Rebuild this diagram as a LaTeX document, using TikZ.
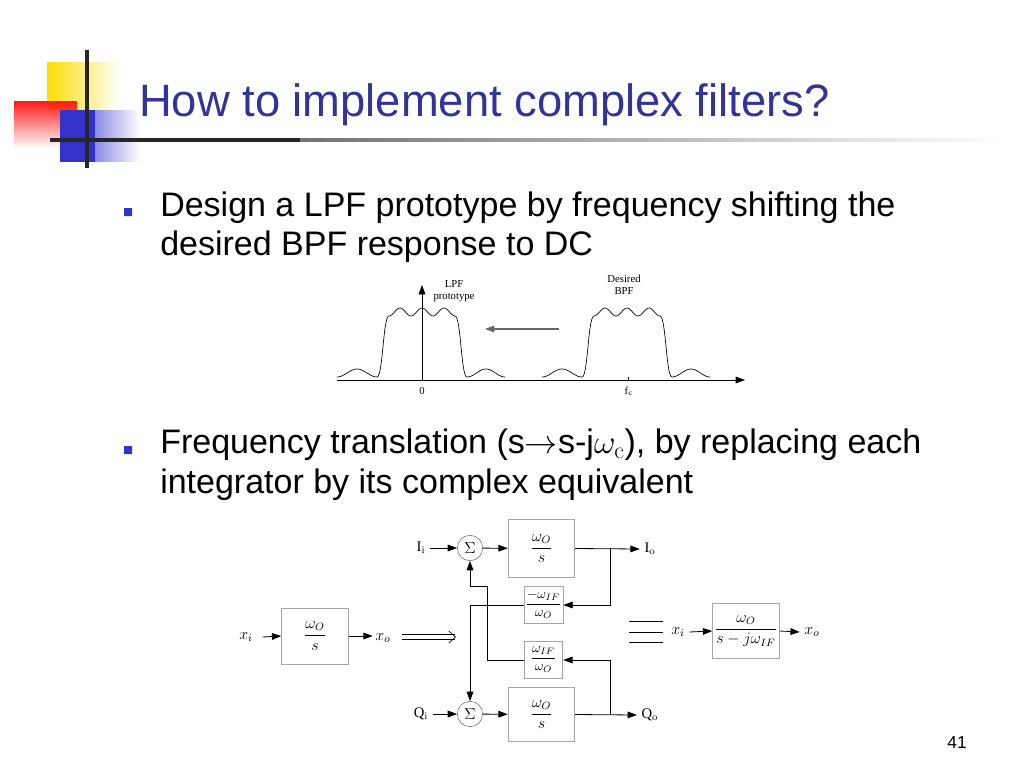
\documentclass[tikz,border=0pt]{standalone}
\usepackage{fontspec}
\newfontfamily\tah{Liberation Sans}
\newfontfamily\tms{Liberation Serif}
\usetikzlibrary{arrows.meta,fadings}
\definecolor{ttl}{RGB}{51,51,153}
\definecolor{blu}{RGB}{51,51,204}
\newcommand{\fr}[2]{$\displaystyle\frac{#1}{#2}$}
\tikzset{
  blk/.style={draw=black!35,line width=0.6pt,minimum width=#1,font=\fontsize{11.5}{12}\selectfont},
  gblk/.style={draw=black!35,line width=0.6pt,minimum width=29pt,minimum height=28pt,inner sep=1pt,font=\fontsize{10}{11}\selectfont},
  sumc/.style={circle,draw=black!60,minimum size=19pt,inner sep=0pt,font=\fontsize{11.5}{12}\selectfont},
  sig/.style={-{Triangle[length=7pt,width=5pt]},line width=0.6pt},
  lbl/.style={font=\tms\fontsize{11}{11}\selectfont},
  mlbl/.style={font=\fontsize{11.5}{12}\selectfont},
  body/.style={font=\tah\fontsize{25.5}{30}\selectfont,anchor=west,inner sep=0pt},
}
\begin{document}
\begin{tikzpicture}[x=0.75pt,y=-0.75pt]
\useasboundingbox (0,0) rectangle (1024,768);
\fill[white] (0,0) rectangle (1024,768);
% decoration
\fill[yellow!80!orange,path fading=east] (47,62) rectangle (120,110);
\fill[red!90,path fading=south] (14,101) rectangle (77,148);
\fill[blu,path fading=east] (60,110) rectangle (140,162);
\fill[blu] (60,110) rectangle (95,162);
\fill[black!75,path fading=east] (50,138) rectangle (1000,142);
\fill[black!85] (50,138) rectangle (300,142);
\draw[line width=3pt,black!85] (87,50) -- (87,168);
\node[anchor=west,inner sep=0pt,font=\tah\fontsize{34}{34}\selectfont,text=ttl] (title) at (139,105) {How to implement complex filters?};
% bullets
\fill[blu] (124,208) rectangle (132,216) (124,446) rectangle (132,454);
\node[body] (b1) at (160,208) {Design a LPF prototype by frequency shifting the};
\node[body] (b1b) at (160,247) {desired BPF response to DC};
\node[body] (b2) at (160,445) {Frequency translation (s$\rightarrow$s-j$\omega_{\mathrm{c}}$), by replacing each};
\node[body] (b2b) at (160,485) {integrator by its complex equivalent};
% spectrum
\coordinate (ax0) at (337,380); \coordinate (ax1) at (745,380);
\draw[sig,line width=0.5pt] (ax0) -- (ax1);
\coordinate (v0) at (422,380); \coordinate (v1) at (422,285);
\draw[sig,line width=0.5pt] (v0) -- (v1);
\draw[line width=0.5pt] (628,377) -- (628,380);
\coordinate (g0) at (559,329); \coordinate (g1) at (485,329);
\draw[sig,black!60,line width=0.8pt] (g0) -- (g1);
\foreach \o in {0,205}{
 \begin{scope}[xshift=\o*0.75pt,line width=0.5pt]
 \draw plot[domain=337:377,samples=41] (\x,{373+4*cos(9*(\x-337))})
   .. controls (383,377) and (383,316) .. (389,316)
   plot[domain=389:455,samples=67] (\x,{312-4*cos(16.3636*(\x-400))})
   .. controls (461,316) and (461,377) .. (467,377)
   plot[domain=467:505,samples=39] (\x,{373+4*cos(9.4737*(\x-467))});
 \end{scope}}
\node[lbl,font=\tms\fontsize{8}{9}\selectfont,align=center] (lpf) at (454,291) {LPF\\prototype};
\node[lbl,font=\tms\fontsize{8}{9}\selectfont,align=center] (bpf) at (624,285) {Desired\\BPF};
\node[lbl,font=\tms\fontsize{8}{9}\selectfont] (z) at (422,391) {0};
\node[lbl,font=\tms\fontsize{8}{9}\selectfont] (fc) at (629,391) {f$_{\mathrm{c}}$};
% left simple integrator
\node[blk=50pt,minimum height=42pt] (lb) at (315,636) {\fr{\omega_O}{s}};
\node[mlbl] (xi) at (246,637) {$x_i$};
\node[mlbl] (xo) at (383,638) {$x_o$};
\draw[sig] (xi.east) ++(4pt,0) coordinate (xs) -- (lb.west);
\draw[sig] (lb.east) -- ++(18pt,0) coordinate (xe);
\draw[double,double distance=3pt,line width=0.5pt,-{Straight Barb[length=5pt,width=9pt]}] (402,637) -- (456,637);
% complex integrator
\node[sumc] (s1) at (470,548) {$\Sigma$};
\node[sumc] (s2) at (470,714) {$\Sigma$};
\node[blk=50pt,minimum height=43pt] (t1) at (541.5,548.5) {\fr{\omega_O}{s}};
\node[blk=50pt,minimum height=41pt] (t2) at (541.5,714.5) {\fr{\omega_O}{s}};
\node[gblk] (g1b) at (543.5,605) {\fr{-\omega_{IF}}{\omega_O}};
\node[gblk] (g2b) at (543.5,660) {\fr{\omega_{IF}}{\omega_O}};
\node[lbl] (ii) at (421,548) {I$_{\mathrm{i}}$};
\node[lbl] (qi) at (421,714) {Q$_{\mathrm{i}}$};
\node[lbl] (io) at (650,549) {I$_{\mathrm{o}}$};
\node[lbl] (qo) at (650,715) {Q$_{\mathrm{o}}$};
\draw[sig] (ii.east) -- (s1.west);
\draw[sig] (qi.east) -- (s2.west);
\draw[sig] (s1) -- (t1);
\draw[sig] (s2) -- (t2);
\draw[sig] (t1.east) -- (io.west);
\draw[sig] (t2.east) -- (qo.west);
\coordinate (br1) at (610,548); \coordinate (br2) at (610,714);
\draw[sig] (br1) |- (g1b.east);
\draw[sig] (br2) |- (g2b.east);
\draw[sig] (g1b.west) -| (s2.north);
\draw[sig] (g2b.west) -- (487,660) -- (487,586) -| (s1.south);
% equivalence
\draw[line width=0.6pt] (629,621) -- (663,621) (629,632) -- (663,632) (629,642) -- (663,642);
\node[blk=50pt,minimum height=41pt,inner sep=1pt] (rb) at (746,631) {\fr{\omega_O}{s-j\omega_{IF}}};
\node[mlbl] (rxi) at (678,632) {$x_i$};
\node[mlbl] (rxo) at (812,632) {$x_o$};
\draw[sig] (rxi.east) -- (rb.west);
\draw[sig] (rb.east) -- (rxo.west);
\node[font=\tah\fontsize{13}{13}\selectfont] (pg) at (957,743) {41};
\end{tikzpicture}
\end{document}
